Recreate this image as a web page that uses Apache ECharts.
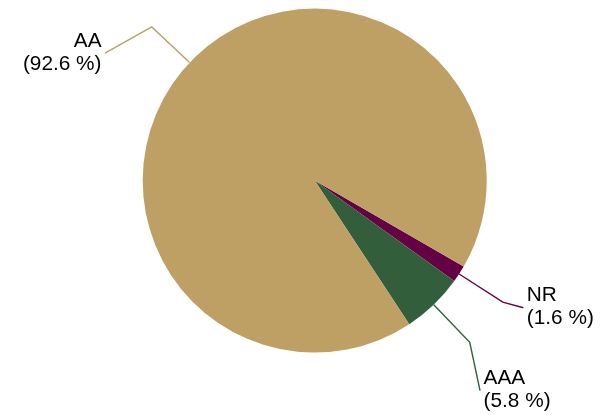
<!DOCTYPE html>
<html>
<head>
<meta charset="utf-8">
<script src="https://cdn.jsdelivr.net/npm/echarts@6/dist/echarts.min.js"></script>
<style>
  html, body { margin: 0; padding: 0; background: #ffffff; }
  #chart { width: 611px; height: 415px; }
</style>
</head>
<body>
<div id="chart"></div>
<script>
// ---- data ----
const categories = ['NR', 'AAA', 'AA'];
const shares = [1.6, 5.8, 92.6];

// ---- styling / layout ----
const sliceColors = ['#660044', '#335E3B', '#BFA064'];
const CX = 314.7, CY = 180.6, R = 172, LEN = 52, START = -30;
const labelShift = [[20.5, 5.5], [10.3, 48.4], [-46.7, 26.3]];
const GAP = 3.5;

const total = shares.reduce((a, b) => a + b, 0);
function midAngle(i) {
  let before = 0;
  for (let k = 0; k < i; k++) before += shares[k];
  return (START - (before + shares[i] / 2) / total * 360) * Math.PI / 180;
}

const chart = echarts.init(document.getElementById('chart'), null, { renderer: 'canvas' });
chart.setOption({
  animation: false,
  backgroundColor: '#ffffff',
  series: [{
    type: 'pie',
    center: [CX, CY],
    radius: R,
    startAngle: START,
    clockwise: true,
    avoidLabelOverlap: false,
    minShowLabelAngle: 0,
    data: categories.map((name, i) => ({
      name: name,
      value: shares[i],
      itemStyle: { color: sliceColors[i] }
    })),
    itemStyle: { borderWidth: 0 },
    emphasis: { disabled: true },
    label: {
      show: true,
      position: 'outside',
      formatter: p => p.name + '\n(' + p.value.toFixed(1) + ' %)',
      fontSize: 20.8,
      lineHeight: 23,
      color: '#000000',
      fontFamily: '"Liberation Sans", Arial, sans-serif'
    },
    labelLine: {
      show: true,
      length: LEN,
      length2: 20,
      smooth: false,
      lineStyle: { width: 1.4 }
    },
    labelLayout: function (params) {
      const i = params.dataIndex;
      const a = midAngle(i);
      const ca = Math.cos(a), sa = Math.sin(a);
      const edge = [CX + R * ca, CY - R * sa];
      const elbow = [CX + (R + LEN) * ca, CY - (R + LEN) * sa];
      const sh = labelShift[i];
      const end = [elbow[0] + sh[0], elbow[1] + sh[1]];
      const toLeft = sh[0] < 0;
      return {
        x: end[0] + (toLeft ? -GAP : GAP),
        y: end[1] - 0.5,
        align: toLeft ? 'right' : 'left',
        verticalAlign: 'middle',
        labelLinePoints: [edge, elbow, end]
      };
    }
  }]
});
</script>
</body>
</html>
